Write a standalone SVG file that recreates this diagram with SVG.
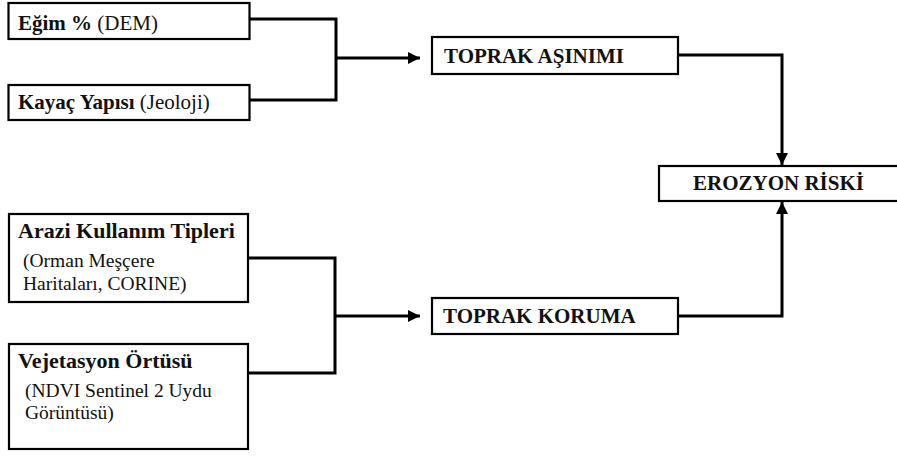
<svg xmlns="http://www.w3.org/2000/svg" width="897" height="464" viewBox="0 0 897 464">
  <style>
    .box { fill: #ffffff; stroke: #000000; stroke-width: 2.2; }
    .wire { fill: none; stroke: #000000; stroke-width: 3; }
    .lbl { font-family: 'Liberation Serif', 'Times New Roman', 'DejaVu Serif', serif; fill: #111111; }
    .b { font-weight: bold; }
    .t21 { font-size: 21px; }
    .t22 { font-size: 22px; }
    .t19 { font-size: 19.5px; }
  </style>
  <defs>
    <marker id="head" markerUnits="userSpaceOnUse" markerWidth="14" markerHeight="12" refX="12" refY="6" orient="auto">
      <path d="M0,0 L12,6 L0,12 Z" fill="#000000"/>
    </marker>
  </defs>

  <rect width="897" height="464" fill="#ffffff"/>

  <g id="connectors">
    <path class="wire" d="M249 19 H336 V100 H249"/>
    <path class="wire" d="M336 58 H420" marker-end="url(#head)"/>
    <path class="wire" d="M248 258 H335 V373 H248"/>
    <path class="wire" d="M335 316 H420" marker-end="url(#head)"/>
    <path class="wire" d="M678 55 H782 V165" marker-end="url(#head)"/>
    <path class="wire" d="M678 316 H782 V202" marker-end="url(#head)"/>
  </g>

  <g id="egim">
    <rect class="box" x="8.5" y="3" width="241" height="36"/>
    <text class="lbl t21" font-family="Liberation Serif, serif" x="18" y="30"><tspan class="b">Eğim %</tspan> (DEM)</text>
  </g>

  <g id="kayac">
    <rect class="box" x="8.5" y="85" width="241" height="35"/>
    <text class="lbl t21" font-family="Liberation Serif, serif" x="18" y="109"><tspan class="b">Kayaç Yapısı</tspan> (Jeoloji)</text>
  </g>

  <g id="arazi">
    <rect class="box" x="9" y="214" width="239" height="88"/>
    <text class="lbl t22 b" font-family="Liberation Serif, serif" x="18" y="238">Arazi Kullanım Tipleri</text>
    <text class="lbl t19" font-family="Liberation Serif, serif" x="23" y="267">(Orman Meşçere</text>
    <text class="lbl t19" font-family="Liberation Serif, serif" x="23" y="290">Haritaları, CORINE)</text>
  </g>

  <g id="vejetasyon">
    <rect class="box" x="9" y="344" width="239" height="105"/>
    <text class="lbl t22 b" font-family="Liberation Serif, serif" x="18" y="368">Vejetasyon Örtüsü</text>
    <text class="lbl t19" font-family="Liberation Serif, serif" x="25" y="397">(NDVI Sentinel 2 Uydu</text>
    <text class="lbl t19" font-family="Liberation Serif, serif" x="25" y="419">Görüntüsü)</text>
  </g>

  <g id="asinim">
    <rect class="box" x="432" y="37" width="246" height="37"/>
    <text class="lbl t21 b" font-family="Liberation Serif, serif" x="444" y="63">TOPRAK AŞINIMI</text>
  </g>

  <g id="koruma">
    <rect class="box" x="432" y="298" width="246" height="36"/>
    <text class="lbl t21 b" font-family="Liberation Serif, serif" x="443" y="323">TOPRAK KORUMA</text>
  </g>

  <g id="erozyon">
    <rect class="box" x="659" y="166" width="250" height="35"/>
    <text class="lbl t21 b" font-family="Liberation Serif, serif" x="693" y="190">EROZYON RİSKİ</text>
  </g>
</svg>
